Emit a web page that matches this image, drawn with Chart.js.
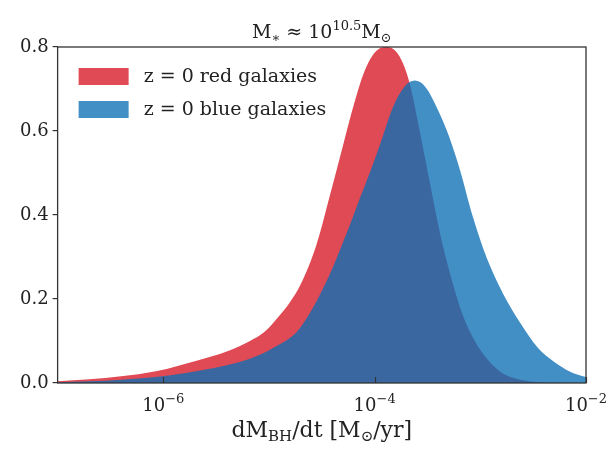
<!DOCTYPE html>
<html>
<head>
<meta charset="utf-8">
<script src="https://cdn.jsdelivr.net/npm/chart.js@4.4.1/dist/chart.umd.min.js"></script>
<style>
  html, body { margin: 0; padding: 0; background: #fff; }
  #wrap { width: 610px; height: 458px; }
</style>
</head>
<body>
<div id="wrap"><canvas id="bhChart"></canvas></div>
<script>
// accretion rate distributions, x given as log10(dM/dt)
const redLogRate = [-7.0, -6.7, -6.4, -6.07, -5.66, -5.4, -5.18, -5.05, -4.92, -4.8, -4.7, -4.55, -4.42, -4.3, -4.2, -4.1, -4.02, -3.95, -3.88, -3.8, -3.73, -3.66, -3.57, -3.47, -3.38, -3.28, -3.16, -3.0, -2.81, -2.62, -2.3, -2.0];
const redDensity = [0.004, 0.009, 0.016, 0.028, 0.055, 0.075, 0.1, 0.12, 0.155, 0.193, 0.235, 0.33, 0.45, 0.565, 0.66, 0.74, 0.78, 0.797, 0.80, 0.79, 0.76, 0.705, 0.595, 0.467, 0.355, 0.255, 0.158, 0.079, 0.027, 0.008, 0.001, 0.0];

const blueLogRate = [-7.0, -6.7, -6.4, -6.07, -5.6, -5.18, -4.95, -4.71, -4.45, -4.26, -4.14, -4.04, -3.95, -3.83, -3.72, -3.62, -3.52, -3.41, -3.3, -3.19, -3.07, -2.94, -2.78, -2.62, -2.46, -2.3, -2.15, -2.0];
const blueDensity = [0.002, 0.004, 0.008, 0.014, 0.032, 0.058, 0.085, 0.13, 0.245, 0.36, 0.44, 0.505, 0.567, 0.655, 0.705, 0.72, 0.705, 0.655, 0.59, 0.505, 0.395, 0.298, 0.21, 0.142, 0.085, 0.05, 0.027, 0.014];

const seriesLabels = ["z = 0 red galaxies", "z = 0 blue galaxies"];
const xTickValues = [1e-6, 1e-4, 1e-2];
const xTickExp = ["\u22126", "\u22124", "\u22122"];
const yTicks = [0.0, 0.2, 0.4, 0.6, 0.8];

const SERIF = "'DejaVu Serif', 'Liberation Serif', serif";
const RED = "rgb(224,74,84)";
const BLUE = "rgba(13,112,182,0.78)";

function toPoints(logs, vals) {
  return logs.map((l, i) => ({ x: Math.pow(10, l), y: vals[i] }));
}

// text with sub/superscript pieces
function drawRich(ctx, parts, x, y, size, align) {
  const small = Math.round(size * 0.7);
  let total = 0;
  parts.forEach(p => {
    ctx.font = (p.sup || p.sub ? small : size) + "px " + SERIF;
    p.w = ctx.measureText(p.t).width;
    total += p.w;
  });
  let cx = align === "center" ? x - total / 2 : x;
  ctx.textBaseline = "alphabetic";
  ctx.textAlign = "left";
  parts.forEach(p => {
    ctx.font = (p.sup || p.sub ? small : size) + "px " + SERIF;
    let dy = 0;
    if (p.sup) dy = -size * 0.42;
    if (p.sub) dy = size * 0.2;
    ctx.fillText(p.t, cx, y + dy);
    cx += p.w;
  });
}

const decorPlugin = {
  id: "decor",
  afterDatasetsDraw(chart) {
    const ctx = chart.ctx;
    const a = chart.chartArea;
    const xs = chart.scales.x;
    ctx.save();
    // frame
    ctx.strokeStyle = "#333";
    ctx.lineWidth = 1.3;
    ctx.strokeRect(a.left, a.top, a.right - a.left, a.bottom - a.top);
    // inward x ticks
    ctx.lineWidth = 1.2;
    xTickValues.forEach(v => {
      const px = Math.round(xs.getPixelForValue(v)) + 0.5;
      ctx.beginPath();
      ctx.moveTo(px, a.bottom);
      ctx.lineTo(px, a.bottom - 6);
      ctx.stroke();
    });
    // x tick labels
    ctx.fillStyle = "#222";
    xTickValues.forEach((v, i) => {
      const px = xs.getPixelForValue(v);
      drawRich(ctx, [{ t: "10" }, { t: xTickExp[i], sup: true }], px, a.bottom + 28, 18, "center");
    });
    // axis title
    drawRich(ctx, [{ t: "dM" }, { t: "BH", sub: true }, { t: "/dt [M" }, { t: "\u2299", sub: true }, { t: "/yr]" }],
      (a.left + a.right) / 2, a.bottom + 54, 22, "center");
    // title
    drawRich(ctx, [{ t: "M" }, { t: "\u2217", sub: true }, { t: " \u2248 10" }, { t: "10.5", sup: true }, { t: "M" }, { t: "\u2299", sub: true }],
      (a.left + a.right) / 2, 38, 19, "center");
    // legend
    const ds = chart.data.datasets;
    ds.forEach((d, i) => {
      const y0 = 68 + i * 33;
      ctx.fillStyle = d.backgroundColor;
      ctx.fillRect(a.left + 21, y0, 50, 17);
      ctx.fillStyle = "#222";
      ctx.font = "19px " + SERIF;
      ctx.textAlign = "left";
      ctx.textBaseline = "middle";
      ctx.fillText(d.label, a.left + 86, y0 + 9);
    });
    ctx.restore();
  }
};

const data = {
  datasets: [
    {
      label: seriesLabels[0],
      data: toPoints(redLogRate, redDensity),
      backgroundColor: RED,
      borderWidth: 0,
      pointRadius: 0,
      fill: "origin",
      cubicInterpolationMode: "monotone",
      order: 2,
    },
    {
      label: seriesLabels[1],
      data: toPoints(blueLogRate, blueDensity),
      backgroundColor: BLUE,
      borderWidth: 0,
      pointRadius: 0,
      fill: "origin",
      cubicInterpolationMode: "monotone",
      order: 1,
    },
  ],
};

const config = {
  type: "line",
  data: data,
  options: {
    responsive: true,
    maintainAspectRatio: false,
    animation: false,
    layout: { padding: { left: 16, right: 24, top: 47, bottom: 67 } },
    plugins: { legend: { display: false }, tooltip: { enabled: false } },
    scales: {
      x: {
        type: "logarithmic",
        min: 1e-7,
        max: 1e-2,
        ticks: { display: false },
        grid: { display: false },
        border: { display: false },
      },
      y: {
        min: 0,
        max: 0.8,
        afterBuildTicks: axis => { axis.ticks = yTicks.map(v => ({ value: v })); },
        ticks: {
          color: "#222",
          font: { family: SERIF, size: 18 },
          padding: 4,
          callback: v => v.toFixed(1),
        },
        grid: { drawOnChartArea: false, tickLength: 5, color: "#333", lineWidth: 1.2 },
        border: { display: false },
      },
    },
  },
  plugins: [decorPlugin],
};

const ctx = document.getElementById("bhChart").getContext("2d");
const bhChart = new Chart(ctx, config);
</script>
</body>
</html>
